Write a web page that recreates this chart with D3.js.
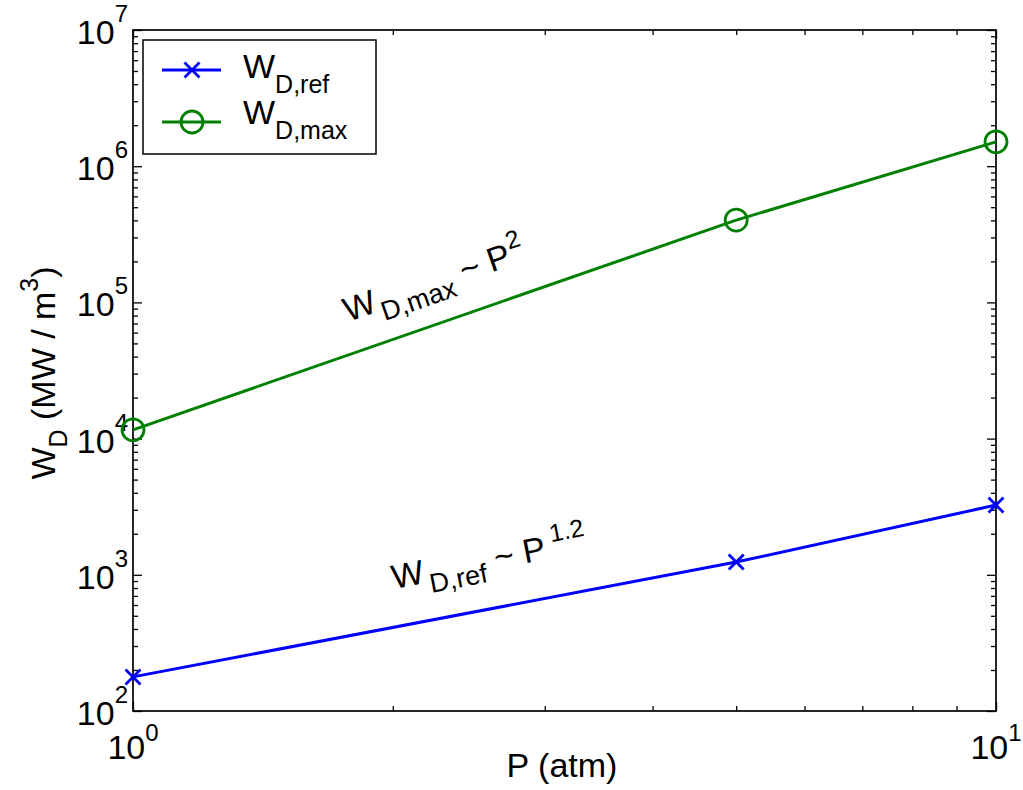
<!DOCTYPE html>
<html>
<head>
<meta charset="utf-8">
<script src="https://cdn.jsdelivr.net/npm/d3@7"></script>
<style>
  html, body { margin: 0; padding: 0; background: #fff; }
  svg { display: block; font-family: "Liberation Sans", Arial, Helvetica, sans-serif; }
</style>
</head>
<body>
<svg id="chart" width="1023" height="790"></svg>
<script>
// ---- data ----
const pressures = [1, 5, 10];                 // P (atm)
const wdRef = [178, 1240, 3250];              // W_D,ref (MW/m^3)
const wdMax = [11600, 402000, 1510000];       // W_D,max (MW/m^3)
const xTickExponents = [0, 1];
const yTickExponents = [2, 3, 4, 5, 6, 7];
const seriesNames = [["W", "D,ref"], ["W", "D,max"]];

// ---- layout ----
const L = 133, R = 996, T = 30, B = 711;
const svg = d3.select("#chart");
const x = d3.scaleLog().domain([1, 10]).range([L, R]);
const y = d3.scaleLog().domain([1e2, 1e7]).range([B, T]);

const majorX = xTickExponents.map(e => Math.pow(10, e));
const minorX = [];
for (let e = 0; e < 1; e++) for (let k = 2; k <= 9; k++) minorX.push(k * Math.pow(10, e));
const majorY = yTickExponents.map(e => Math.pow(10, e));
const minorY = [];
for (let e = 2; e < 7; e++) for (let k = 2; k <= 9; k++) minorY.push(k * Math.pow(10, e));

const axisG = svg.append("g");
function addAxis(gen, tr, vals, size) {
  const g = axisG.append("g").attr("transform", tr)
    .call(gen.tickValues(vals).tickSize(size).tickFormat(""));
  g.select(".domain").remove();
  g.selectAll(".tick line").attr("stroke", "#000").attr("stroke-width", 1.3);
}
// inward ticks on all four sides
addAxis(d3.axisBottom(x), `translate(0,${B})`, majorX, -9);
addAxis(d3.axisBottom(x), `translate(0,${B})`, minorX, -5);
addAxis(d3.axisTop(x), `translate(0,${T})`, majorX, -9);
addAxis(d3.axisTop(x), `translate(0,${T})`, minorX, -5);
addAxis(d3.axisLeft(y), `translate(${L},0)`, majorY, -9);
addAxis(d3.axisLeft(y), `translate(${L},0)`, minorY, -5);
addAxis(d3.axisRight(y), `translate(${R},0)`, majorY, -9);
addAxis(d3.axisRight(y), `translate(${R},0)`, minorY, -5);

// box
svg.append("rect").attr("x", L).attr("y", T).attr("width", R - L).attr("height", B - T)
  .attr("fill", "none").attr("stroke", "#000").attr("stroke-width", 1.7);

// tick labels
const FS = 34, SFS = 24;
xTickExponents.forEach(e => {
  const t = svg.append("text").attr("x", x(Math.pow(10, e))).attr("y", 759)
    .attr("text-anchor", "middle").attr("font-size", FS).attr("fill", "#000");
  t.append("tspan").text("10");
  t.append("tspan").attr("font-size", SFS).attr("dy", -18).text(e);
});
yTickExponents.forEach(e => {
  const t = svg.append("text").attr("x", 128).attr("y", y(Math.pow(10, e)) + 14)
    .attr("text-anchor", "end").attr("font-size", FS).attr("fill", "#000");
  t.append("tspan").text("10");
  t.append("tspan").attr("font-size", SFS).attr("dy", -22).text(e);
});

// axis labels
svg.append("text").attr("x", 562).attr("y", 777).attr("text-anchor", "middle")
  .attr("font-size", FS).attr("fill", "#000").text("P (atm)");
const yl = svg.append("text").attr("transform", "translate(55,373) rotate(-90)")
  .attr("text-anchor", "middle").attr("font-size", FS).attr("fill", "#000");
yl.append("tspan").text("W");
yl.append("tspan").attr("font-size", 25).attr("dy", 12).text("D");
yl.append("tspan").attr("dy", -12).text(" (MW / m");
yl.append("tspan").attr("font-size", 25).attr("dy", -17).text("3");
yl.append("tspan").attr("dy", 17).text(")");

// series
const colors = ["#0000ff", "#008000"];
const series = [wdRef, wdMax];
const line = d3.line().x(d => x(d[0])).y(d => y(d[1]));
series.forEach((vals, i) => {
  const pts = pressures.map((p, j) => [p, vals[j]]);
  svg.append("path").datum(pts).attr("d", line).attr("fill", "none")
    .attr("stroke", colors[i]).attr("stroke-width", 3);
});
function cross(g, cx, cy, s, c) {
  g.append("path").attr("d", `M${cx - s},${cy - s}L${cx + s},${cy + s}M${cx - s},${cy + s}L${cx + s},${cy - s}`)
    .attr("stroke", c).attr("stroke-width", 2.8).attr("fill", "none");
}
pressures.forEach((p, j) => {
  cross(svg, x(p), y(wdRef[j]), 7.5, colors[0]);
  svg.append("circle").attr("cx", x(p)).attr("cy", y(wdMax[j])).attr("r", 11)
    .attr("fill", "none").attr("stroke", colors[1]).attr("stroke-width", 2.8);
});

// annotations
function annot(tr, sub, sup, supGap, subGap) {
  const t = svg.append("text").attr("transform", tr).attr("font-size", FS).attr("fill", "#000");
  t.append("tspan").text("W");
  t.append("tspan").attr("font-size", 27).attr("dy", 11).attr("dx", subGap).text(sub);
  t.append("tspan").attr("dy", -11).text(" ~ P");
  t.append("tspan").attr("font-size", 25).attr("dy", -16).attr("dx", supGap).text(sup);
}
annot("translate(348,322) rotate(-19)", "D,max", "2", 1, 3);
annot("translate(394,589) rotate(-11)", "D,ref", "1.2", 7, 4);

// legend
const lg = svg.append("g");
lg.append("rect").attr("x", 143).attr("y", 40).attr("width", 233).attr("height", 114)
  .attr("fill", "#fff").attr("stroke", "#000").attr("stroke-width", 1.5);
const rowY = [70, 122];
seriesNames.forEach((nm, i) => {
  const ry = rowY[i];
  lg.append("line").attr("x1", 162).attr("x2", 221).attr("y1", ry).attr("y2", ry)
    .attr("stroke", colors[i]).attr("stroke-width", 3);
  if (i === 0) cross(lg, 192, ry, 7.5, colors[0]);
  else lg.append("circle").attr("cx", 192).attr("cy", ry).attr("r", 11)
    .attr("fill", "none").attr("stroke", colors[1]).attr("stroke-width", 2.8);
  const t = lg.append("text").attr("x", 243).attr("y", ry + (i === 0 ? 8 : 2))
    .attr("font-size", FS).attr("fill", "#000");
  t.append("tspan").text(nm[0]);
  t.append("tspan").attr("font-size", 25).attr("dy", 15).text(nm[1]);
});
</script>
</body>
</html>
